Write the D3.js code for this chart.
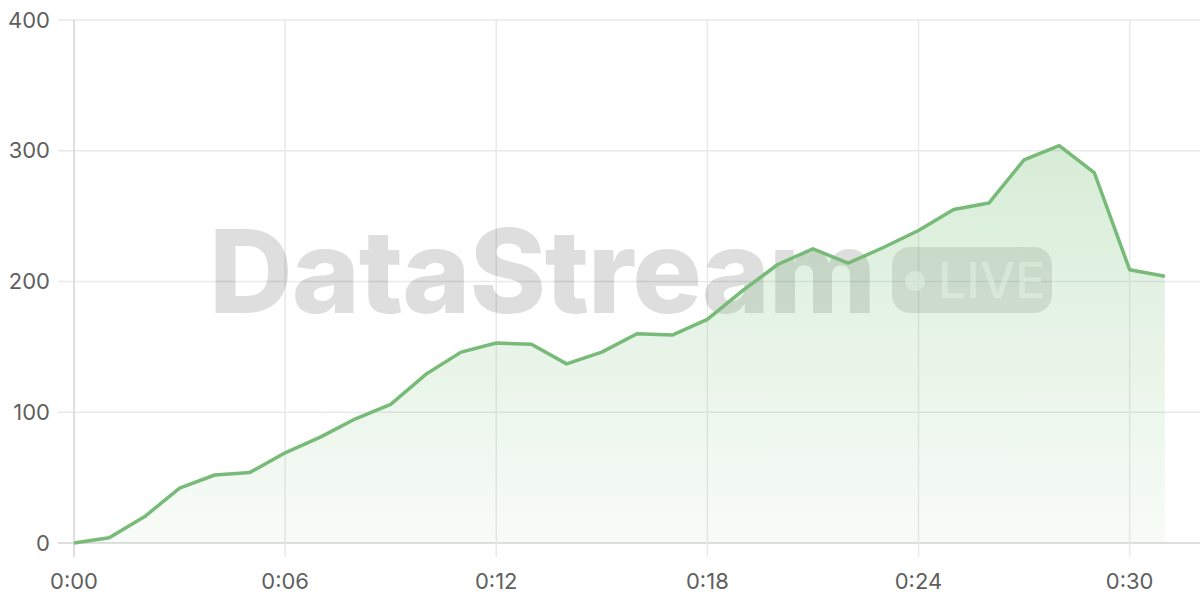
<!DOCTYPE html>
<html>
<head>
<meta charset="utf-8">
<script src="https://cdn.jsdelivr.net/npm/d3@7"></script>
<style>
  html, body { margin: 0; padding: 0; background: #fff; }
  svg { display: block; font-family: Inter, "Noto Sans", sans-serif; }
</style>
</head>
<body>
<svg id="chart"></svg>
<script>
var width = 1200,
    height = 600,
    margin = {top: 20, right: 0, bottom: 57, left: 74};

// minutes since start
var minutes = d3.range(0, 32);
var viewers = [0, 4, 20, 42, 52, 54, 69, 81, 95, 106, 129, 146, 153, 152, 137, 146,
               160, 159, 171, 193, 213, 225, 214, 226, 239, 255, 260, 293, 304, 283, 209, 204];
var yTicks = [0, 100, 200, 300, 400];
var xTicks = [0, 6, 12, 18, 24, 30];
var watermark = "DataStream",
    badge = "LIVE";

var data = minutes.map(function(m, i) { return {t: m, v: viewers[i]}; });

var svg = d3.select("#chart")
            .attr("width", width)
            .attr("height", height);

var x = d3.scaleLinear().domain([0, 32]).range([margin.left, width - margin.right]);
var y = d3.scaleLinear().domain([0, 400]).range([height - margin.bottom, margin.top]);

var defs = svg.append("defs");
var grad = defs.append("linearGradient")
               .attr("id", "areaFill")
               .attr("gradientUnits", "userSpaceOnUse")
               .attr("x1", 0).attr("x2", 0)
               .attr("y1", y(310)).attr("y2", y(0));
grad.append("stop").attr("offset", "0%").attr("stop-color", "#6dbb6d").attr("stop-opacity", 0.28);
grad.append("stop").attr("offset", "100%").attr("stop-color", "#6dbb6d").attr("stop-opacity", 0.05);

//Grid
svg.append("g")
   .selectAll("line")
   .data(yTicks)
   .join("line")
   .attr("x1", margin.left - 16)
   .attr("x2", width)
   .attr("y1", function(d) { return y(d); })
   .attr("y2", function(d) { return y(d); })
   .attr("stroke", function(d) { return d === 0 ? "#d4d4d4" : "#e9e9e9"; })
   .attr("stroke-width", 1.5);

svg.append("g")
   .selectAll("line")
   .data(xTicks)
   .join("line")
   .attr("x1", function(d) { return x(d); })
   .attr("x2", function(d) { return x(d); })
   .attr("y1", margin.top)
   .attr("y2", y(0) + 14)
   .attr("stroke", function(d) { return d === 0 ? "#d4d4d4" : "#e9e9e9"; })
   .attr("stroke-width", 1.5);

//Watermark
var wm = svg.append("g").attr("class", "watermark");
wm.append("text")
  .attr("x", 209)
  .attr("y", 313)
  .attr("font-family", "Inter, sans-serif")
  .attr("font-weight", 800)
  .attr("font-size", 116)
  .attr("letter-spacing", -1.2)
  .attr("fill", "#000")
  .attr("fill-opacity", 0.13)
  .text(watermark);
wm.append("rect")
  .attr("x", 892).attr("y", 247)
  .attr("width", 160).attr("height", 66)
  .attr("rx", 18)
  .attr("fill", "#000")
  .attr("fill-opacity", 0.11);
wm.append("circle")
  .attr("cx", 915).attr("cy", 281).attr("r", 10)
  .attr("fill", "#fff").attr("fill-opacity", 0.55);
wm.append("text")
  .attr("x", 938)
  .attr("y", 298)
  .attr("font-family", "Inter, sans-serif")
  .attr("font-weight", 500)
  .attr("font-size", 50)
  .attr("fill", "#fff")
  .attr("fill-opacity", 0.55)
  .text(badge);

//Area + line
var area = d3.area()
             .x(function(d) { return x(d.t); })
             .y0(y(0))
             .y1(function(d) { return y(d.v); });
var line = d3.line()
             .x(function(d) { return x(d.t); })
             .y(function(d) { return y(d.v); });

svg.append("path")
   .datum(data)
   .attr("d", area)
   .attr("fill", "url(#areaFill)");

svg.append("path")
   .datum(data)
   .attr("d", line)
   .attr("fill", "none")
   .attr("stroke", "#78bb78")
   .attr("stroke-width", 3.5)
   .attr("stroke-linejoin", "round");

//Axes labels
svg.append("g")
   .selectAll("text")
   .data(yTicks)
   .join("text")
   .attr("x", 50)
   .attr("y", function(d) { return y(d); })
   .attr("dy", "0.35em")
   .attr("text-anchor", "end")
   .attr("font-size", 22)
   .attr("fill", "#5f5f5f")
   .text(function(d) { return d; });

svg.append("g")
   .selectAll("text")
   .data(xTicks)
   .join("text")
   .attr("x", function(d) { return x(d); })
   .attr("y", 589)
   .attr("text-anchor", "middle")
   .attr("font-size", 22)
   .attr("fill", "#5f5f5f")
   .text(function(d) { return "0:" + d3.format("02")(d); });
</script>
</body>
</html>
